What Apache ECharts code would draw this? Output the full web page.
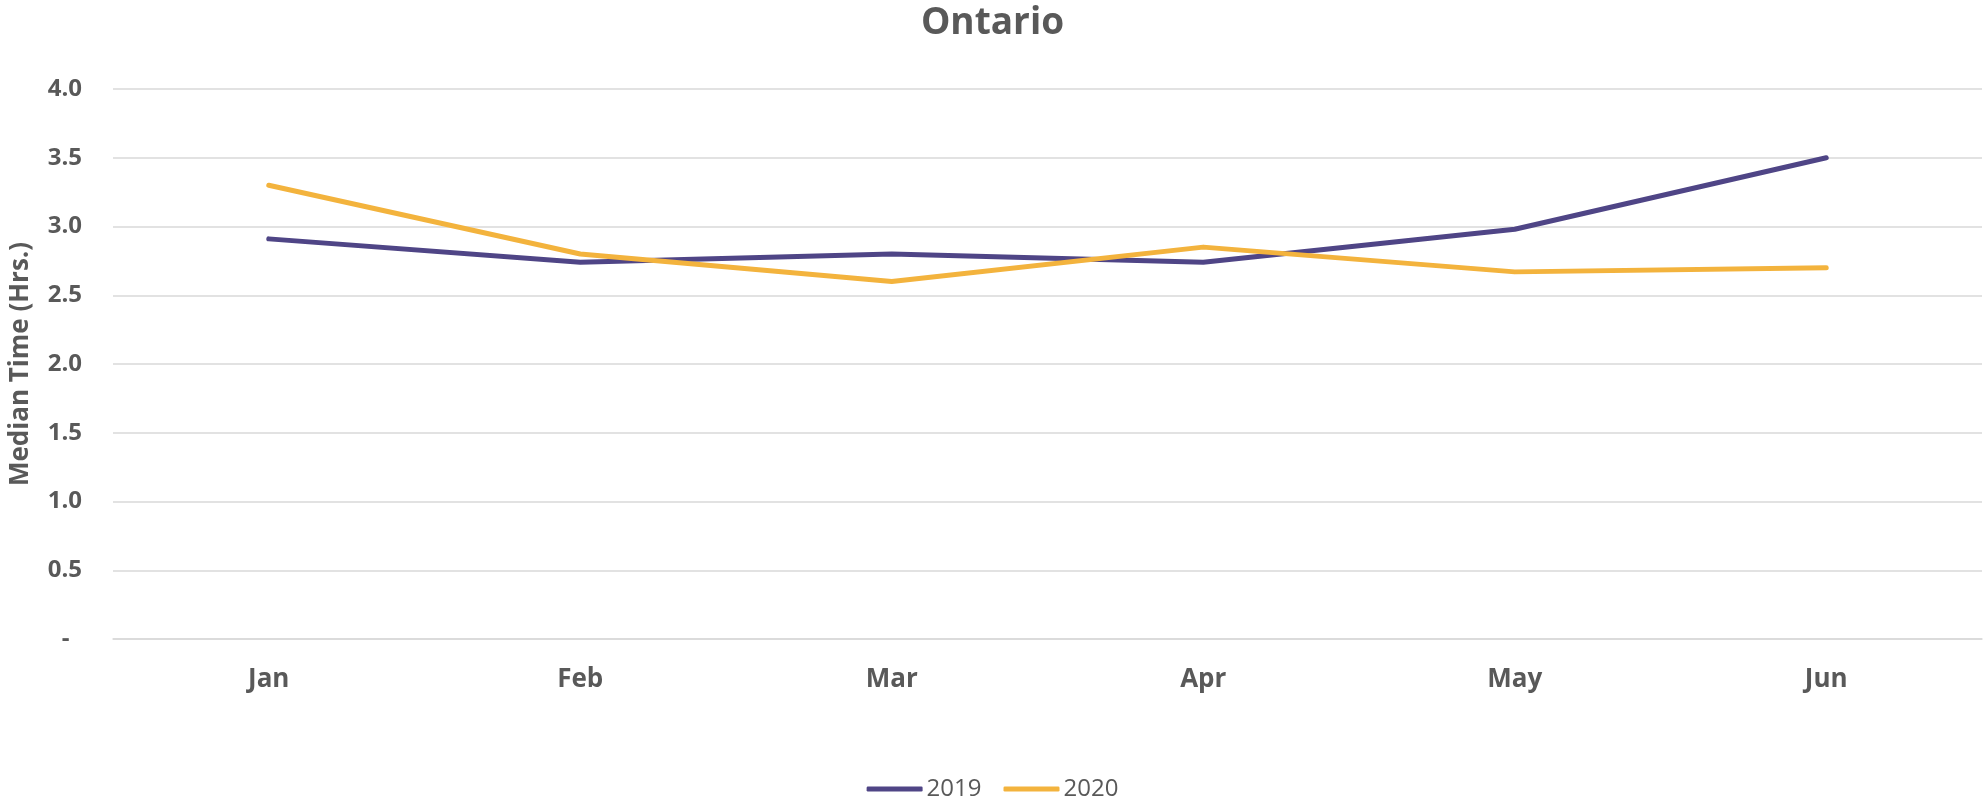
<!DOCTYPE html>
<html>
<head>
<meta charset="utf-8">
<title>Ontario</title>
<script src="https://cdn.jsdelivr.net/npm/echarts@6/dist/echarts.min.js"></script>
<style>
  html, body { margin: 0; padding: 0; background: #ffffff; }
  #chart { width: 1985px; height: 803px; }
</style>
</head>
<body>
<div id="chart"></div>
<script>
// Monthly median time (hours), Ontario
const months = ['Jan', 'Feb', 'Mar', 'Apr', 'May', 'Jun'];
const values2019 = [2.91, 2.74, 2.80, 2.74, 2.98, 3.50];
const values2020 = [3.30, 2.80, 2.60, 2.85, 2.67, 2.70];
const seriesNames = ['2019', '2020'];

const FONT = "'Open Sans', 'Noto Sans', sans-serif";
const TEXT = '#595959';
const GRID = '#d9d9d9';
const PURPLE = '#4f4586';
const GOLD = '#f3b33d';

const chart = echarts.init(document.getElementById('chart'), null, { renderer: 'canvas' });

function lineSeries(name, data, color) {
  return {
    name: name,
    type: 'line',
    data: data,
    symbol: 'none',
    itemStyle: { color: color },
    lineStyle: { color: color, width: 5, cap: 'round', join: 'round' },
    emphasis: { disabled: true }
  };
}

chart.setOption({
  animation: false,
  backgroundColor: '#ffffff',
  title: {
    text: 'Ontario',
    left: 'center',
    top: 1,
    padding: 0,
    textStyle: { fontFamily: FONT, fontWeight: 'bold', fontSize: 37, color: TEXT, lineHeight: 44 }
  },
  legend: {
    data: seriesNames,
    left: 'center',
    top: 772,
    icon: 'roundRect',
    itemWidth: 56,
    itemHeight: 5,
    itemGap: 22,
    textStyle: { fontFamily: FONT, fontSize: 24, color: TEXT, padding: [0, 0, 0, -1] }
  },
  grid: { left: 113, right: 3, top: 89, bottom: 164, containLabel: false, outerBoundsMode: 'none' },
  xAxis: {
    type: 'category',
    data: months,
    boundaryGap: true,
    axisLine: { show: true, lineStyle: { color: GRID, width: 1.5 } },
    axisTick: { show: false },
    axisLabel: { fontFamily: FONT, fontWeight: 'bold', fontSize: 26, color: TEXT, margin: 28 }
  },
  yAxis: {
    type: 'value',
    min: 0,
    max: 4,
    interval: 0.5,
    name: 'Median Time (Hrs.)',
    nameLocation: 'middle',
    nameRotate: 90,
    nameGap: 79,
    nameTextStyle: { fontFamily: FONT, fontWeight: 'bold', fontSize: 26, color: TEXT },
    axisLine: { show: false },
    axisTick: { show: false },
    splitLine: { show: true, lineStyle: { color: GRID, width: 1.5 } },
    axisLabel: {
      fontFamily: FONT, fontWeight: 'bold', fontSize: 24, color: TEXT, margin: 31,
      formatter: function (v) { return v === 0 ? '-  ' : v.toFixed(1); }
    }
  },
  series: [
    lineSeries(seriesNames[0], values2019, PURPLE),
    lineSeries(seriesNames[1], values2020, GOLD)
  ]
});
</script>
</body>
</html>
